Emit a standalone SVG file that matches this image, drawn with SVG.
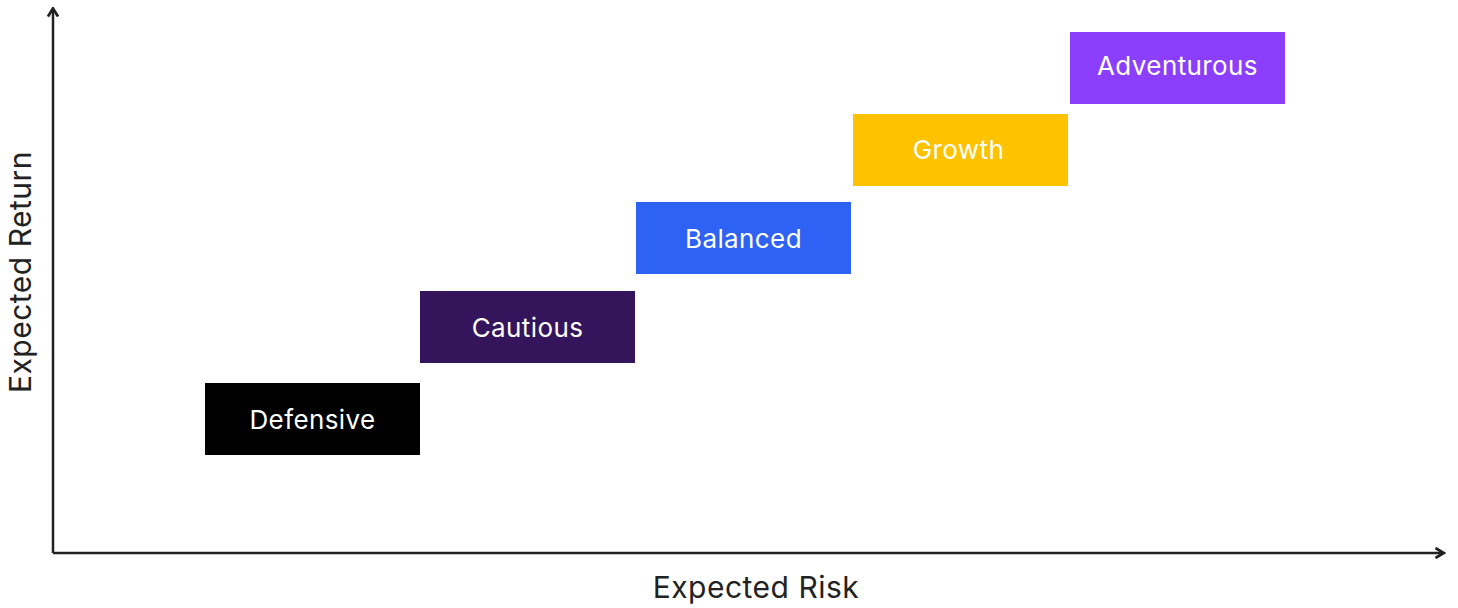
<svg xmlns="http://www.w3.org/2000/svg" width="1458" height="608" viewBox="0 0 1458 608">
<style>
.box-label{font-family:Inter,"Noto Sans","Liberation Sans",sans-serif;font-size:26px;letter-spacing:0.4px;fill:#ffffff;text-anchor:middle;dominant-baseline:central}
.axis-label{font-family:Inter,"Noto Sans","Liberation Sans",sans-serif;font-size:30px;letter-spacing:0.5px;fill:#222222;text-anchor:middle;dominant-baseline:central}
.axis{stroke:#222222;stroke-width:2.5;fill:none}
</style>
<defs>
<marker id="arrow" viewBox="0 0 10 10" refX="8" refY="5" markerWidth="5" markerHeight="5" orient="auto" markerUnits="strokeWidth">
<path d="M2,1 L8.5,5 L2,9" fill="none" stroke="#222222" stroke-width="2.2" stroke-linejoin="miter"/>
</marker>
</defs>
<rect width="1458" height="608" fill="#ffffff"/>
<g id="connectors">
<path class="axis" d="M53,553 L53,9" marker-end="url(#arrow)"/>
<path class="axis" d="M53,553 L1443,553" marker-end="url(#arrow)"/>
</g>
<g id="defensive"><rect x="205" y="383" width="215" height="72" fill="#000000"/><text class="box-label" x="312.5" y="419">Defensive</text></g>
<g id="cautious"><rect x="420" y="291" width="215" height="72" fill="#34155c"/><text class="box-label" x="527.5" y="327">Cautious</text></g>
<g id="balanced"><rect x="636" y="202" width="215" height="72" fill="#2d62f5"/><text class="box-label" x="743.5" y="238">Balanced</text></g>
<g id="growth"><rect x="853" y="114" width="215" height="72" fill="#ffc200"/><text class="box-label" x="958.5" y="149">Growth</text></g>
<g id="adventurous"><rect x="1070" y="32" width="215" height="72" fill="#8b3ffc"/><text class="box-label" x="1177.5" y="65">Adventurous</text></g>
<text class="axis-label" x="756" y="587">Expected Risk</text>
<text class="axis-label" transform="translate(20,272) rotate(-90)" x="0" y="0">Expected Return</text>
</svg>
